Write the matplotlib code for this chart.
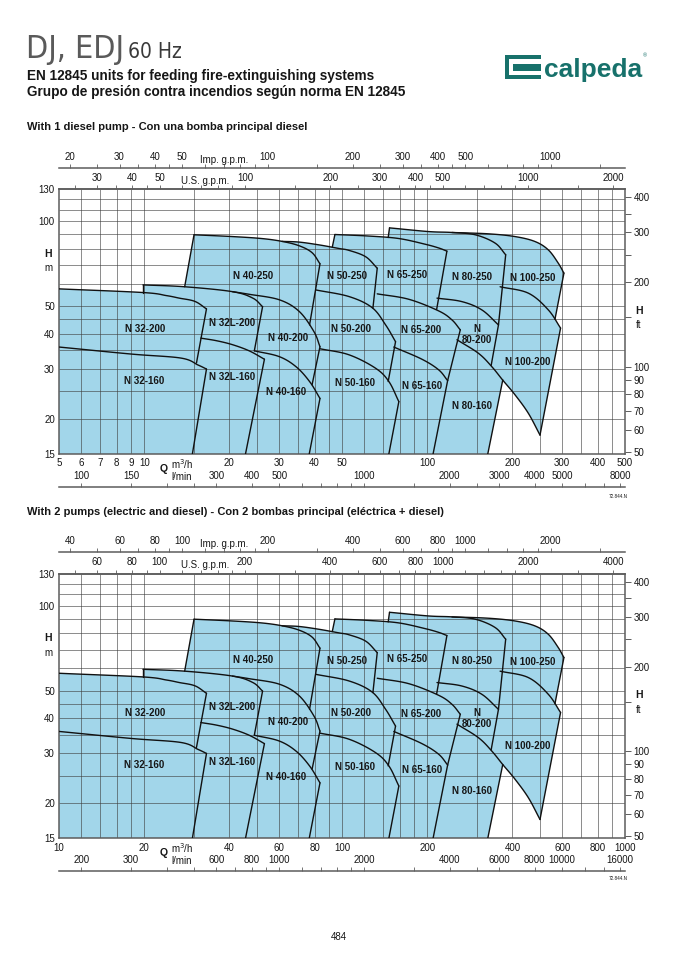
import numpy as np
import matplotlib
matplotlib.use("Agg")
import matplotlib.pyplot as plt
from matplotlib.patches import Polygon, Rectangle
from matplotlib.ticker import NullFormatter, NullLocator

W, H = 679, 959
plt.rcParams['font.family'] = ['Liberation Sans', 'DejaVu Sans']

blue_ = '#a2d6ea'
grid_ = '#3c3c3c'
frame_ = '#5c5c5c'
teal_ = '#17716b'
ink_ = '#161616'

M_TO_FT = 3.28084
M3H_TO_IMP = 3.6662
M3H_TO_US = 4.4029
M3H_TO_LMIN = 1000.0 / 60.0

# curves read off the "1 diesel pump" chart, Q in m3/h, H in m
# (the "2 pumps" chart is the same field with Q doubled)
T32_200_Q = [5.0, 9.9, 12.0, 13.3, 15.1, 16.6]
T32_200_H = [57.7, 56.0, 54.6, 53.5, 52.1, 49.0]
R32_200_Q = [16.6, 15.3]
R32_200_H = [49.0, 31.5]
T32_160_Q = [5.0, 9.0, 13.5, 15.5, 16.6]
T32_160_H = [35.9, 33.9, 32.8, 31.0, 30.0]
R32_160_Q = [16.6, 14.8]
R32_160_H = [30.0, 15.0]

L32L_200_Q = [9.9, 9.9]
L32L_200_H = [56.0, 59.6]
T32L_200_Q = [9.9, 13.9, 20.5, 24.2, 26.2]
T32L_200_H = [59.6, 58.7, 56.4, 53.5, 49.9]
R32L_200_Q = [26.2, 24.5]
R32L_200_H = [49.9, 34.8]
T32L_160_Q = [15.85, 18.0, 20.5, 23.5, 26.6]
T32L_160_H = [38.6, 37.8, 36.6, 34.8, 32.5]
R32L_160_Q = [26.6, 22.8]
R32L_160_H = [32.5, 15.0]

L40_250_Q = [13.9, 15.0]
L40_250_H = [58.7, 89.7]
T40_250_Q = [15.0, 20.5, 26.0, 30.7, 35.3, 39.2, 41.8]
T40_250_H = [89.7, 88.4, 87.0, 85.0, 82.0, 77.5, 70.8]
R40_250_Q = [41.8, 38.4]
R40_250_H = [70.8, 43.0]
T40_200_Q = [20.5, 23.5, 30.0, 35.3, 39.8, 41.8]
T40_200_H = [56.4, 55.2, 52.8, 48.0, 40.7, 36.0]
R40_200_Q = [41.8, 39.2]
R40_200_H = [36.0, 26.4]
T40_160_Q = [24.5, 30.0, 34.5, 38.5, 41.8]
T40_160_H = [34.8, 33.2, 30.5, 27.0, 23.6]
R40_160_Q = [41.8, 38.3]
R40_160_H = [23.6, 15.0]

T50_250_Q = [30.7, 35.3, 41.8, 48.8, 52.9, 60.6, 66.6]
T50_250_H = [85.0, 84.5, 82.5, 80.2, 79.0, 75.0, 68.3]
R50_250_Q = [66.6, 64.3]
R50_250_H = [68.3, 49.3]
T50_200_Q = [40.4, 52.9, 63.9, 71.3, 77.3]
T50_200_H = [57.2, 54.2, 49.5, 43.0, 37.5]
R50_200_Q = [77.3, 72.8]
R50_200_H = [37.5, 27.1]
T50_160_Q = [41.8, 52.9, 65.7, 73.2, 79.4]
T50_160_H = [35.4, 33.7, 30.2, 27.1, 23.0]
R50_160_Q = [79.4, 73.2]
R50_160_H = [23.0, 15.0]

L65_250_Q = [46.2, 47.2]
L65_250_H = [81.1, 89.9]
T65_250_Q = [47.2, 62.0, 79.4, 98.6, 110.0, 117.4]
T65_250_H = [89.9, 88.8, 87.0, 83.0, 80.5, 78.5]
R65_250_Q = [117.4, 108.0]
R65_250_H = [78.5, 48.8]
T65_200_Q = [66.6, 86.1, 109.8, 122.3, 130.9]
T65_200_H = [55.4, 53.0, 48.2, 44.8, 41.3]
R65_200_Q = [130.9, 118.1]
R65_200_H = [41.3, 27.3]
T65_160_Q = [76.2, 95.8, 109.8, 118.1]
T65_160_H = [35.9, 32.5, 29.8, 27.3]
R65_160_Q = [118.1, 104.9]
R65_160_H = [27.3, 15.0]

L80_250_Q = [72.8, 73.6]
L80_250_H = [87.7, 94.9]
T80_250_Q = [73.6, 101.0, 122.3, 147.8, 173.8, 189.4]
T80_250_H = [94.9, 92.1, 91.4, 89.7, 83.8, 76.2]
R80_250_Q = [189.4, 178.6]
R80_250_H = [76.2, 43.0]
T80_200_Q = [108.3, 132.6, 156.0, 178.6]
T80_200_H = [53.5, 52.0, 48.6, 43.0]
R80_200_Q = [178.6, 168.3]
R80_200_H = [43.0, 30.9]
T80_160_Q = [127.4, 151.8, 169.1, 184.9]
T80_160_H = [38.1, 34.1, 30.6, 27.4]
R80_160_Q = [184.9, 163.7]
R80_160_H = [27.4, 15.0]

T100_250_Q = [122.3, 164.6, 204.4, 240.4, 267.9, 290.4, 304.2]
T100_250_H = [91.4, 90.4, 88.4, 84.9, 79.3, 71.2, 65.6]
R100_250_Q = [304.2, 282.8]
R100_250_H = [65.6, 45.0]
T100_200_Q = [181.0, 227.8, 267.9, 296.0]
T100_200_H = [58.7, 55.7, 48.6, 41.9]
R100_200_Q = [296.0, 250.4]
R100_200_H = [41.9, 17.5]
B100_200_Q = [184.9, 204.4, 227.8, 250.4]
B100_200_H = [27.4, 24.3, 20.9, 17.5]

LABEL_TEXT = ['N 40-250', 'N 50-250', 'N 65-250', 'N 80-250', 'N 100-250',
              'N 32-200', 'N 32L-200', 'N 40-200', 'N 50-200', 'N 65-200', 'N\n80-200', 'N 100-200',
              'N 32-160', 'N 32L-160', 'N 40-160', 'N 50-160', 'N 65-160', 'N 80-160']
LABEL_Q = [24.2, 52.2, 85.1, 143.8, 235.3,
           10.1, 20.5, 32.2, 53.7, 95.1, 149.4, 225.9,
           10.0, 20.4, 31.7, 55.4, 95.8, 143.8]
LABEL_H = [64.2, 64.0, 64.7, 63.8, 63.3,
           41.6, 43.8, 38.8, 41.6, 41.3, 39.8, 31.9,
           27.2, 28.0, 24.8, 26.8, 26.2, 22.1]

# grid (chart 1, Q m3/h); chart 2 uses Q x 2
XGRID = [6, 7, 8, 9, 10, 15, 20, 25, 30, 35, 40, 45, 50, 60, 70, 80, 90,
         100, 150, 200, 250, 300, 350, 400, 450]
YGRID = [20, 25, 30, 35, 40, 45, 50, 60, 70, 80, 90, 100, 110, 120]
Y_TICKS = [15, 20, 30, 40, 50, 100, 130]
FT_LABELS = [50, 60, 70, 80, 90, 100, 200, 300, 400]
FT_MINOR = [150, 250, 350]

Q1_TICKS = [5, 6, 7, 8, 9, 10, 20, 30, 40, 50, 100, 200, 300, 400, 500]
IMP1_LABELS = [20, 30, 40, 50, 100, 200, 300, 400, 500, 1000]
US1_LABELS = [30, 40, 50, 100, 200, 300, 400, 500, 1000, 2000]
GPM1_MINOR = [25, 35, 45, 60, 70, 80, 90, 150, 250, 350, 450, 600, 700, 800, 900, 1500]
LMIN1_LABELS = [100, 150, 300, 400, 500, 1000, 2000, 3000, 4000, 5000, 8000]
LMIN1_MINOR = [200, 250, 600, 700, 800, 900, 1500, 2500, 6000, 7000]

Q2_TICKS = [10, 20, 40, 60, 80, 100, 200, 400, 600, 800, 1000]
IMP2_LABELS = [40, 60, 80, 100, 200, 400, 600, 800, 1000, 2000]
US2_LABELS = [60, 80, 100, 200, 400, 600, 800, 1000, 2000, 4000]
GPM2_MINOR = [50, 70, 90, 120, 140, 160, 180, 300, 500, 700, 900, 1200, 1400, 1600, 1800, 3000]
LMIN2_LABELS = [200, 300, 600, 800, 1000, 2000, 4000, 6000, 8000, 10000, 16000]
LMIN2_MINOR = [400, 500, 700, 900, 1200, 1400, 1600, 1800, 3000, 5000, 12000, 14000]


def px_x(px):
    return px / W


def px_y(py):
    return 1 - py / H


def smooth(q, h, n=14):
    q = np.asarray(q, float)
    h = np.asarray(h, float)
    if len(q) < 3:
        return q, h
    P = np.column_stack([np.log10(q), np.log10(h)])
    P = np.vstack([2 * P[0] - P[1], P, 2 * P[-1] - P[-2]])
    out = []
    t = np.linspace(0, 1, n, endpoint=False)[:, None]
    for i in range(1, len(P) - 2):
        p0, p1, p2, p3 = P[i - 1], P[i], P[i + 1], P[i + 2]
        out.append(0.5 * (2 * p1 + (-p0 + p2) * t + (2 * p0 - 5 * p1 + 4 * p2 - p3) * t ** 2
                          + (-p0 + 3 * p1 - 3 * p2 + p3) * t ** 3))
    out.append(P[-2][None, :])
    S = np.vstack(out)
    return 10 ** S[:, 0], 10 ** S[:, 1]


def piece(q, h, lo, hi):
    q, h = smooth(q, h)
    lo = max(lo, q.min())
    hi = min(hi, q.max())
    inner = (q > lo) & (q < hi)
    qq = np.concatenate([[lo], q[inner], [hi]])
    return list(zip(qq, np.interp(qq, q, h)))


def envelope(k):
    pts = [(5.0, 15.0)]
    pts += piece(T32_200_Q, T32_200_H, 5.0, L32L_200_Q[0])
    pts += list(zip(L32L_200_Q, L32L_200_H))
    pts += piece(T32L_200_Q, T32L_200_H, L32L_200_Q[1], L40_250_Q[0])
    pts += list(zip(L40_250_Q, L40_250_H))
    pts += piece(T40_250_Q, T40_250_H, L40_250_Q[1], T50_250_Q[0])
    pts += piece(T50_250_Q, T50_250_H, T50_250_Q[0], L65_250_Q[0])
    pts += list(zip(L65_250_Q, L65_250_H))
    pts += piece(T65_250_Q, T65_250_H, L65_250_Q[1], L80_250_Q[0])
    pts += list(zip(L80_250_Q, L80_250_H))
    pts += piece(T80_250_Q, T80_250_H, L80_250_Q[1], T100_250_Q[0])
    pts += piece(T100_250_Q, T100_250_H, T100_250_Q[0], T100_250_Q[-1])
    pts += list(zip(R100_250_Q, R100_250_H))
    pts += piece(T100_200_Q, T100_200_H, R100_250_Q[-1], T100_200_Q[-1])
    pts += list(zip(R100_200_Q, R100_200_H))
    bq, bh = smooth(B100_200_Q, B100_200_H)
    pts += list(zip(bq[::-1], bh[::-1]))
    pts += list(zip(R80_160_Q, R80_160_H))
    pts.append((5.0, 15.0))
    return [(q * k, h) for q, h in pts]


LINES = [
    (T32_200_Q, T32_200_H), (R32_200_Q, R32_200_H), (T32_160_Q, T32_160_H), (R32_160_Q, R32_160_H),
    (L32L_200_Q, L32L_200_H), (T32L_200_Q, T32L_200_H), (R32L_200_Q, R32L_200_H),
    (T32L_160_Q, T32L_160_H), (R32L_160_Q, R32L_160_H),
    (L40_250_Q, L40_250_H), (T40_250_Q, T40_250_H), (R40_250_Q, R40_250_H),
    (T40_200_Q, T40_200_H), (R40_200_Q, R40_200_H), (T40_160_Q, T40_160_H), (R40_160_Q, R40_160_H),
    (T50_250_Q, T50_250_H), (R50_250_Q, R50_250_H), (T50_200_Q, T50_200_H), (R50_200_Q, R50_200_H),
    (T50_160_Q, T50_160_H), (R50_160_Q, R50_160_H),
    (L65_250_Q, L65_250_H), (T65_250_Q, T65_250_H), (R65_250_Q, R65_250_H),
    (T65_200_Q, T65_200_H), (R65_200_Q, R65_200_H), (T65_160_Q, T65_160_H), (R65_160_Q, R65_160_H),
    (L80_250_Q, L80_250_H), (T80_250_Q, T80_250_H), (R80_250_Q, R80_250_H),
    (T80_200_Q, T80_200_H), (R80_200_Q, R80_200_H), (T80_160_Q, T80_160_H), (R80_160_Q, R80_160_H),
    (T100_250_Q, T100_250_H), (R100_250_Q, R100_250_H), (T100_200_Q, T100_200_H),
    (R100_200_Q, R100_200_H), (B100_200_Q, B100_200_H),
]

LEFT = px_x(59)
WIDTH = (625 - 59) / W


def scale_axis(fig, y_px, factor, k, labels, minor):
    a = fig.add_axes([LEFT, px_y(y_px), WIDTH, 1e-6])
    a.set_xscale('log')
    a.set_xlim(5 * k * factor, 500 * k * factor)
    a.yaxis.set_major_locator(NullLocator())
    a.yaxis.set_minor_locator(NullLocator())
    for s in ('left', 'right', 'bottom'):
        a.spines[s].set_visible(False)
    a.spines['top'].set_color(frame_)
    a.spines['top'].set_linewidth(1.1)
    a.xaxis.set_ticks_position('top')
    a.set_xticks(labels, [str(v) for v in labels])
    a.set_xticks(minor, minor=True)
    a.xaxis.set_minor_formatter(NullFormatter())
    a.tick_params(which='both', direction='out', length=3, width=0.6, color=frame_,
                  labelsize=7, pad=1.5, labelcolor=ink_)
    a.patch.set_visible(False)
    return a


def draw_chart(fig, top_px, k, q_ticks, imp_labels, us_labels, gpm_minor, lmin_labels, lmin_minor,
               title, code_y):
    bot_px = top_px + 264.7
    ax = fig.add_axes([LEFT, px_y(bot_px), WIDTH, (bot_px - top_px) / H])
    ax.set_xscale('log')
    ax.set_yscale('log')
    ax.set_xlim(5 * k, 500 * k)
    ax.set_ylim(15, 130)
    ax.add_patch(Polygon(envelope(k), closed=True, facecolor=blue_, edgecolor='none', zorder=1))
    ax.vlines([g * k for g in XGRID], 15, 130, colors=grid_, lw=0.55, alpha=0.75, zorder=2)
    ax.hlines(YGRID, 5 * k, 500 * k, colors=grid_, lw=0.55, alpha=0.75, zorder=2)
    for q, h in LINES:
        sq, sh = smooth(q, h)
        ax.plot(sq * k, sh, color='#111111', lw=1.0, zorder=3, solid_capstyle='round')
    for t, q, h in zip(LABEL_TEXT, LABEL_Q, LABEL_H):
        ax.text(q * k, h, t, ha='center', va='center', fontsize=7, fontweight='bold',
                color=ink_, zorder=4, linespacing=1.1)
    ax.set_xticks(q_ticks, [str(v) for v in q_ticks])
    ax.xaxis.set_minor_locator(NullLocator())
    ax.set_yticks(Y_TICKS, [str(v) for v in Y_TICKS])
    ax.yaxis.set_minor_locator(NullLocator())
    ax.tick_params(length=0, labelsize=7, pad=3, labelcolor=ink_)
    for s in ax.spines.values():
        s.set_color(frame_)
        s.set_linewidth(1.1)

    axr = ax.twinx()
    axr.set_yscale('log')
    axr.set_ylim(15 * M_TO_FT, 130 * M_TO_FT)
    axr.set_yticks(FT_LABELS, [str(v) for v in FT_LABELS])
    axr.set_yticks(FT_MINOR, minor=True)
    axr.yaxis.set_minor_formatter(NullFormatter())
    axr.tick_params(which='both', direction='out', length=4, width=0.7, color=frame_,
                    labelsize=7, pad=2, labelcolor=ink_)
    for s in axr.spines.values():
        s.set_visible(False)

    scale_axis(fig, top_px - 21.3, M3H_TO_IMP, k, imp_labels, gpm_minor)
    scale_axis(fig, top_px, M3H_TO_US, k, us_labels, gpm_minor)
    scale_axis(fig, bot_px + 33, M3H_TO_LMIN, k, lmin_labels, lmin_minor)

    def ftext(x, y, s, **kw):
        kw.setdefault('fontsize', 7)
        kw.setdefault('color', ink_)
        fig.text(px_x(x), px_y(y), s, **kw)

    ftext(224, top_px - 29.5, 'Imp. g.p.m.', ha='center', va='center')
    ftext(205, top_px - 8.5, 'U.S. g.p.m.', ha='center', va='center')
    ftext(163.5, bot_px + 15, 'Q', ha='center', va='center', fontweight='bold', fontsize=7.5)
    ftext(171, bot_px + 10, 'm$^3$/h', ha='left', va='center')
    ftext(171, bot_px + 23, 'l/min', ha='left', va='center')
    ftext(44, top_px + 64.5, 'H', ha='left', va='center', fontweight='bold', fontsize=7.5)
    ftext(44, top_px + 79, 'm', ha='left', va='center')
    ftext(635, top_px + 121.5, 'H', ha='left', va='center', fontweight='bold', fontsize=7.5)
    ftext(636, top_px + 136, 'ft', ha='left', va='center')
    ftext(628, code_y, '72.844.N', ha='right', va='center', fontsize=3.3)
    ftext(27, top_px - 62, title, ha='left', va='center', fontweight='bold', fontsize=8.0)
    return ax


fig = plt.figure(figsize=(W / 100, H / 100), dpi=100)
renderer = fig.canvas.get_renderer()

# page header; the condensed title is fitted to its width in the reference
t1 = fig.text(px_x(26), px_y(58), 'DJ, EDJ', fontsize=24, family='DejaVu Sans',
              fontstretch='condensed', color='#5a5a5a', ha='left', va='baseline')
bb = t1.get_window_extent(renderer)
if bb.width > 98:
    t1.set_fontsize(24 * 98 / bb.width)
    bb = t1.get_window_extent(renderer)
t2 = fig.text(bb.x1 / W + 4 / W, px_y(58), '60 Hz', fontsize=15, family='DejaVu Sans',
              fontstretch='condensed', color='#3a3a3a', ha='left', va='baseline')
bb2 = t2.get_window_extent(renderer)
if bb2.width > 60:
    t2.set_fontsize(15 * 60 / bb2.width)

fig.text(px_x(27), px_y(76), 'EN 12845 units for feeding fire-extinguishing systems',
         fontsize=9.8, fontweight='bold', color=ink_, ha='left', va='center')
fig.text(px_x(27), px_y(92), 'Grupo de presión contra incendios según norma EN 12845',
         fontsize=9.8, fontweight='bold', color=ink_, ha='left', va='center')

# calpeda logo
fig.patches.append(Rectangle((px_x(505), px_y(79)), 36 / W, 24 / H, transform=fig.transFigure,
                             facecolor=teal_, edgecolor='none'))
fig.patches.append(Rectangle((px_x(509), px_y(75)), 32 / W, 16 / H, transform=fig.transFigure,
                             facecolor='white', edgecolor='none'))
fig.patches.append(Rectangle((px_x(513), px_y(70.5)), 28 / W, 7 / H, transform=fig.transFigure,
                             facecolor=teal_, edgecolor='none'))
fig.text(px_x(544), px_y(77), 'calpeda', fontsize=19, fontweight='bold', color=teal_,
         ha='left', va='baseline')
fig.text(px_x(643), px_y(56), '®', fontsize=4, color=teal_, ha='left', va='center')

draw_chart(fig, 189.3, 1, Q1_TICKS, IMP1_LABELS, US1_LABELS, GPM1_MINOR, LMIN1_LABELS, LMIN1_MINOR,
           'With 1 diesel pump - Con una bomba principal diesel', 496)
draw_chart(fig, 573.7, 2, Q2_TICKS, IMP2_LABELS, US2_LABELS, GPM2_MINOR, LMIN2_LABELS, LMIN2_MINOR,
           'With 2 pumps (electric and diesel) - Con 2 bombas principal (eléctrica + diesel)', 879)

fig.text(px_x(339), px_y(937), '484', fontsize=7, color=ink_, ha='center', va='center')

fig.savefig('out.png', dpi=100)
